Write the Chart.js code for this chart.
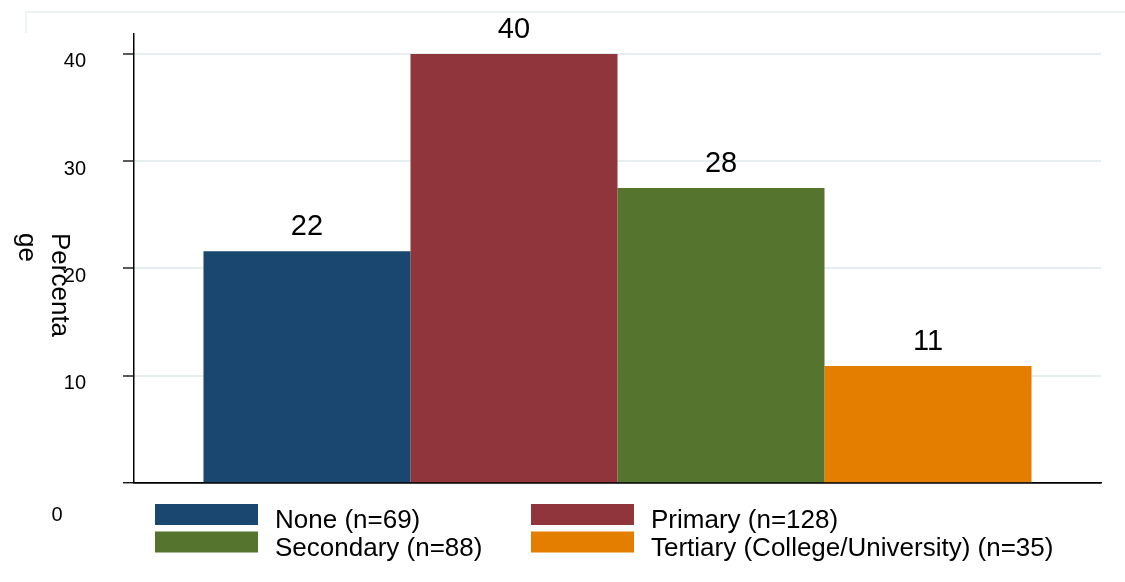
<!DOCTYPE html>
<html>
<head>
<meta charset="utf-8">
<script src="https://cdn.jsdelivr.net/npm/chart.js@4"></script>
<style>
  body { margin: 0; background: #fff; }
  #wrap { width: 1125px; height: 582px; position: relative; }
</style>
</head>
<body>
<div id="wrap"><canvas id="barCanvas"></canvas></div>
<script>
// education level, respondents and share (%)
const categories = ["None", "Primary", "Secondary", "Tertiary (College/University)"];
const counts = [69, 128, 88, 35];
const percentages = [21.6, 40.0, 27.5, 10.9];
const yTicks = [0, 10, 20, 30, 40];
const yTitle = ["Percenta", "ge"];

const colors = ["#1a476f", "#90353b", "#55752f", "#e37e00"];
const FONT = "'Liberation Sans', Arial, sans-serif";
const gridColor = "#e6eef0";

// frame, y title, the odd "0" label, bar labels and the two-column legend
const stataBits = {
    id: "stataBits",
    beforeDraw(chart) {
        const ctx = chart.ctx;
        ctx.save();
        ctx.fillStyle = "#fff";
        ctx.fillRect(0, 0, chart.width, chart.height);
        ctx.strokeStyle = "#e8eef0";
        ctx.lineWidth = 1.5;
        ctx.beginPath();
        ctx.moveTo(26, 33);
        ctx.lineTo(26, 12);
        ctx.lineTo(chart.width, 12);
        ctx.stroke();
        ctx.restore();
    },
    afterDraw(chart) {
        const ctx = chart.ctx;
        const y = chart.scales.y;
        ctx.save();
        ctx.fillStyle = "#000";

        // y axis title, rotated clockwise and wrapped
        ctx.font = "26px " + FONT;
        ctx.textAlign = "left";
        ctx.textBaseline = "alphabetic";
        ctx.translate(52, 233);
        ctx.rotate(Math.PI / 2);
        yTitle.forEach((line, i) => ctx.fillText(line, 0, i * 33.5));
        ctx.setTransform(1, 0, 0, 1, 0, 0);

        // zero tick label sits below the axis
        ctx.font = "20px " + FONT;
        ctx.textAlign = "center";
        ctx.textBaseline = "middle";
        ctx.fillText(String(yTicks[0]), 57, y.getPixelForValue(yTicks[0]) + 32);

        // bar labels
        ctx.font = "29px " + FONT;
        ctx.textBaseline = "alphabetic";
        chart.data.datasets.forEach((ds, i) => {
            const bar = chart.getDatasetMeta(i).data[0];
            ctx.fillText(String(Math.round(ds.data[0])), bar.x, bar.y - 16);
        });

        // legend in two columns
        const top = chart.chartArea.bottom + 21;
        const colX = [155, 531];
        ctx.font = "26px " + FONT;
        ctx.textAlign = "left";
        chart.data.datasets.forEach((ds, i) => {
            const row = Math.floor(i / 2);
            const bx = colX[i % 2];
            const by = top + row * 27.5;
            ctx.fillStyle = ds.backgroundColor;
            ctx.fillRect(bx, by, 103, 21);
            ctx.fillStyle = "#000";
            ctx.fillText(ds.label, bx + 120, by + 24);
        });
        ctx.restore();
    }
};

const barChart = new Chart(document.getElementById("barCanvas"), {
    type: "bar",
    data: {
        labels: [""],
        datasets: categories.map((c, i) => ({
            label: c + " (n=" + counts[i] + ")",
            data: [percentages[i]],
            backgroundColor: colors[i],
            borderWidth: 0,
            barPercentage: 1,
            categoryPercentage: 0.8563
        }))
    },
    options: {
        responsive: true,
        maintainAspectRatio: false,
        animation: false,
        layout: {
            padding: { top: 34, right: 24, bottom: 99, left: 0 }
        },
        plugins: {
            legend: { display: false },
            tooltip: { enabled: false }
        },
        scales: {
            x: {
                offset: true,
                grid: { display: false, drawTicks: false },
                ticks: { display: false },
                border: { display: true, color: "#000", width: 1.5 }
            },
            y: {
                min: 0,
                max: 41.86,
                afterBuildTicks: (scale) => {
                    scale.ticks = yTicks.map(v => ({ value: v }));
                },
                afterFit: (scale) => {
                    scale.width = 134;
                    scale.paddingTop = 0;
                    scale.paddingBottom = 0;
                },
                ticks: {
                    font: { family: FONT, size: 20 },
                    color: "#000",
                    padding: 37,
                    labelOffset: 8,
                    callback: (v) => v === 0 ? "" : v
                },
                grid: {
                    color: (c) => c.tick && c.tick.value === 0 ? "#000" : gridColor,
                    lineWidth: (c) => c.tick && c.tick.value === 0 ? 1.5 : 2,
                    tickLength: 11,
                    tickColor: "#000",
                    tickWidth: 1.3
                },
                border: { display: true, color: "#000", width: 1.5 }
            }
        }
    },
    plugins: [stataBits]
});
</script>
</body>
</html>
